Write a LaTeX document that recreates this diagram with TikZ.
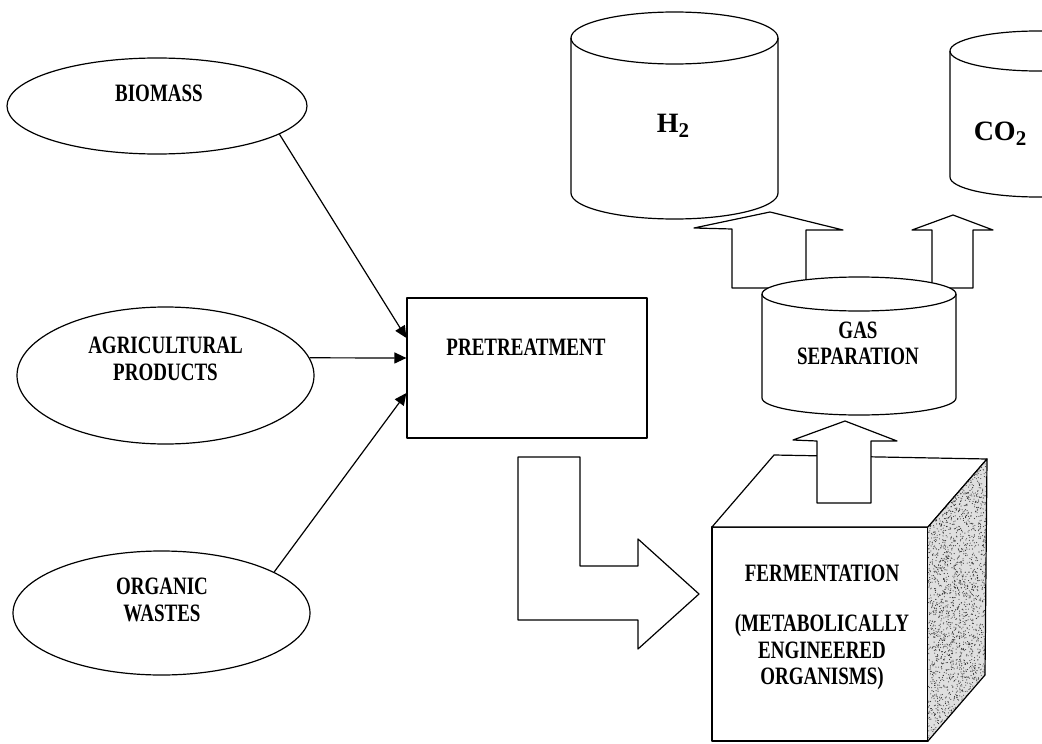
\documentclass[tikz,border=0pt]{standalone}
\usepackage{fontspec}
\setmainfont{Liberation Serif}
\newfontfamily\condf[FakeStretch=0.76]{Liberation Serif}
\usetikzlibrary{shapes.geometric,arrows.meta}
\begin{document}
\begin{tikzpicture}[x=1pt,y=-1pt,
  ln/.style={line width=1.2pt, line join=round},
  src/.style={ln, draw, ellipse, inner sep=0pt},
  lbl/.style={font=\condf\bfseries\fontsize{25}{26.5}\selectfont, align=center, inner sep=0pt},
  big/.style={font=\bfseries\fontsize{28}{30}\selectfont, inner sep=0pt},
  conn/.style={ln, -{Triangle[length=12pt,width=11pt]}},
  blk/.style={ln, draw, fill=white}]
\useasboundingbox (0,0) rectangle (1042,744);
\clip (0,0) rectangle (1042,744);
\fill[white] (0,0) rectangle (1042,744);

% sources
\node[src, minimum width=300pt, minimum height=96pt] (bio) at (157,106) {};
\node[src, minimum width=297pt, minimum height=137pt] (agr) at (165.5,375.5) {};
\node[src, minimum width=297pt, minimum height=124pt] (org) at (161.5,613) {};
\node[lbl] (bioT) at (159,93) {BIOMASS};
\node[lbl] (agrT) at (165.5,359) {AGRICULTURAL\\PRODUCTS};
\node[lbl] (orgT) at (162,600) {ORGANIC\\WASTES};

% pretreatment
\node[ln, draw, minimum width=240pt, minimum height=140pt, inner sep=0pt] (pre) at (527,368) {};
\node[lbl] (preT) at (526,347) {PRETREATMENT};

\draw[conn] (bio.-13) -- ([yshift=30pt]pre.west);
\draw[conn] (agr.7) -- ([yshift=10pt]pre.west);
\draw[conn] (org.20) -- ([yshift=-25pt]pre.west);

% L-shaped block arrow
\draw[blk] (518,457) -- (580,457) -- (580,566) -- (638,566) -- (638,539) -- (699,594)
  -- (638,649) -- (638,620) -- (518,620) -- cycle;

% fermentation cube
\node[ln, draw, fill=white, minimum width=216pt, minimum height=214pt, inner sep=0pt] (ferm) at (820,634) {};
\draw[blk] (712,527) -- (774,455) -- (987,459) -- (928,527) -- cycle;
\begin{scope}
  \clip (928,527) -- (987,459) -- (985,675) -- (928,741) -- cycle;
  \fill[gray!25] (925,452) rectangle (992,746);
  \pgfmathsetseed{7}
  \foreach \i in {1,...,2900}{
    \pgfmathsetmacro{\dotx}{925+66*rnd}
    \pgfmathsetmacro{\doty}{452+294*rnd}
    \fill[black!80] (\dotx,\doty) circle[radius=0.55pt];
  }
\end{scope}
\draw[ln] (928,527) -- (987,459) -- (985,675) -- (928,741);
\node[lbl] (fermT) at (822,573) {FERMENTATION};
\node[lbl] (fermS) at (822,652) {(METABOLICALLY\\ENGINEERED\\ORGANISMS)};

% arrow fermentation -> gas separation
\draw[blk] (817,503) -- (817,441) -- (793,440) -- (845,421) -- (897,441) -- (871,441) -- (871,503) -- cycle;

% arrows gas separation -> H2, CO2
\draw[blk] (732,288) -- (732,229) -- (694,228) -- (770,212) -- (843,230) -- (806,230) -- (806,288) -- cycle;
\draw[blk] (932,288) -- (932,230) -- (912,230) -- (953,215) -- (993,230) -- (973,230) -- (973,288) -- cycle;

% gas separation cylinder
\draw[blk] (762,294) -- (762,398) arc[start angle=180,end angle=360,x radius=97pt,y radius=17pt]
  -- (956,294) arc[start angle=0,end angle=180,x radius=97pt,y radius=17pt] -- cycle;
\draw[ln] (762,294) arc[start angle=180,end angle=360,x radius=97pt,y radius=17pt];
\node[lbl] (gasT) at (858,343.5) {GAS\\SEPARATION};

% H2 cylinder
\draw[blk] (571,38) -- (571,193) arc[start angle=180,end angle=360,x radius=103.5pt,y radius=26pt]
  -- (778,38) arc[start angle=0,end angle=180,x radius=103.5pt,y radius=26pt] -- cycle;
\draw[ln] (571,38) arc[start angle=180,end angle=360,x radius=103.5pt,y radius=26pt];
\node[big, anchor=base] (h2T) at (673,132) {H\raisebox{-5pt}{\fontsize{21}{21}\selectfont 2}};

% CO2 cylinder
\draw[blk] (950,51) -- (950,177) arc[start angle=180,end angle=360,x radius=88pt,y radius=20pt]
  -- (1126,51) arc[start angle=0,end angle=180,x radius=88pt,y radius=20pt] -- cycle;
\draw[ln] (950,51) arc[start angle=180,end angle=360,x radius=88pt,y radius=20pt];
\node[big, anchor=base] (co2T) at (1000,140) {CO\raisebox{-5pt}{\fontsize{21}{21}\selectfont 2}};
\end{tikzpicture}
\end{document}
